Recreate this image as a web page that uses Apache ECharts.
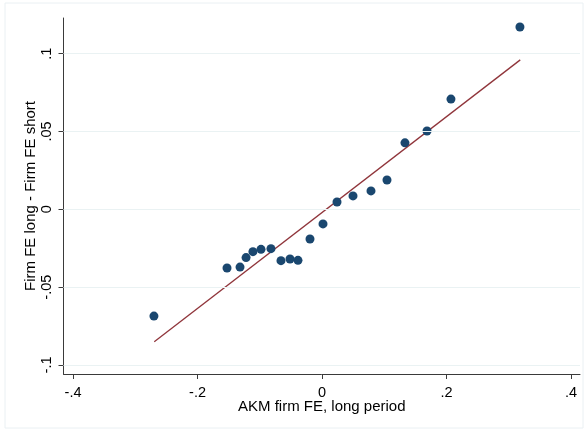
<!DOCTYPE html>
<html><head><meta charset="utf-8">
<script src="https://cdn.jsdelivr.net/npm/echarts@6/dist/echarts.min.js"></script>
<style>html,body{margin:0;padding:0;background:#fff}#c{width:586px;height:431px}</style>
</head><body><div id="c"></div>
<script>
const xValues = [-0.270,-0.1526,-0.1317,-0.122,-0.111,-0.098,-0.082,-0.0659,-0.0514,-0.0386,-0.0193,0.0016,0.0241,0.0498,0.0787,0.1044,0.1333,0.1687,0.2072,0.318];
const yValues = [-0.0686,-0.0377,-0.0371,-0.0310,-0.0272,-0.0257,-0.0253,-0.0330,-0.0319,-0.0328,-0.0191,-0.0094,0.0047,0.0086,0.0118,0.0188,0.0427,0.0503,0.0708,0.1171];
const fitX = [-0.2695, 0.3185];
const fitY = [-0.0851, 0.0960];
const xTicks = [-0.4,-0.2,0,0.2,0.4];
const xTickLabels = ['-.4','-.2','0','.2','.4'];
const yTicks = [-0.1,-0.05,0,0.05,0.1];
const yTickLabels = ['-.1','-.05','0','.05','.1'];

const FONT = 'Liberation Sans, Arial, sans-serif';
function lab(ticks, labels){ return v => { for (let i=0;i<ticks.length;i++) if (Math.abs(ticks[i]-v)<1e-9) return labels[i]; return ''; }; }
const axisCol = '#3a3a3a';
const chart = echarts.init(document.getElementById('c'), null, {renderer:'canvas'});
chart.setOption({
  animation:false,
  backgroundColor:'#fff',
  graphic:[{type:'rect', shape:{x:5,y:3,width:578,height:425}, style:{fill:'none', stroke:'#eaf0f3', lineWidth:1}, silent:true, z:-10}],
  grid:{left:63.5, right:6, top:18, bottom:57, containLabel:false},
  xAxis:{type:'value', min:-0.4153, max:0.4145,
    name:'AKM firm FE, long period', nameLocation:'middle', nameGap:25, nameMoveOverlap:false,
    nameTextStyle:{fontFamily:FONT, fontSize:15, color:'#000'},
    axisLine:{show:true, onZero:false, lineStyle:{color:axisCol, width:1}},
    axisTick:{show:true, length:5, customValues:xTicks, lineStyle:{color:axisCol}},
    axisLabel:{customValues:xTicks, formatter:lab(xTicks,xTickLabels), fontFamily:FONT, fontSize:14.5, color:'#000', margin:11},
    splitLine:{show:false}},
  yAxis:{type:'value', min:-0.1058, max:0.1229,
    name:'Firm FE long - Firm FE short', nameLocation:'middle', nameGap:25, nameRotate:90, nameMoveOverlap:false,
    nameTextStyle:{fontFamily:FONT, fontSize:15, color:'#000'},
    axisLine:{show:true, onZero:false, lineStyle:{color:axisCol, width:1}},
    axisTick:{show:true, length:5, customValues:yTicks, lineStyle:{color:axisCol}},
    axisLabel:{customValues:yTicks, formatter:lab(yTicks,yTickLabels), rotate:90, fontFamily:FONT, fontSize:14.5, color:'#000', margin:9},
    splitLine:{show:false}},
  series:[
    {type:'line', data:[], markLine:{silent:true, symbol:'none', label:{show:false},
      lineStyle:{color:'#eaf2f3', type:'solid', width:1.2},
      data: yTicks.map(v=>({yAxis:v}))}, z:1},
    {type:'line', data:fitX.map((x,i)=>[x,fitY[i]]), symbol:'none', lineStyle:{color:'#90353b', width:1.3}, z:2},
    {type:'scatter', data:xValues.map((x,i)=>[x,yValues[i]]), symbol:'circle', symbolSize:9, itemStyle:{color:'#1a476f', opacity:1}, z:3}
  ]
});
</script></body></html>
